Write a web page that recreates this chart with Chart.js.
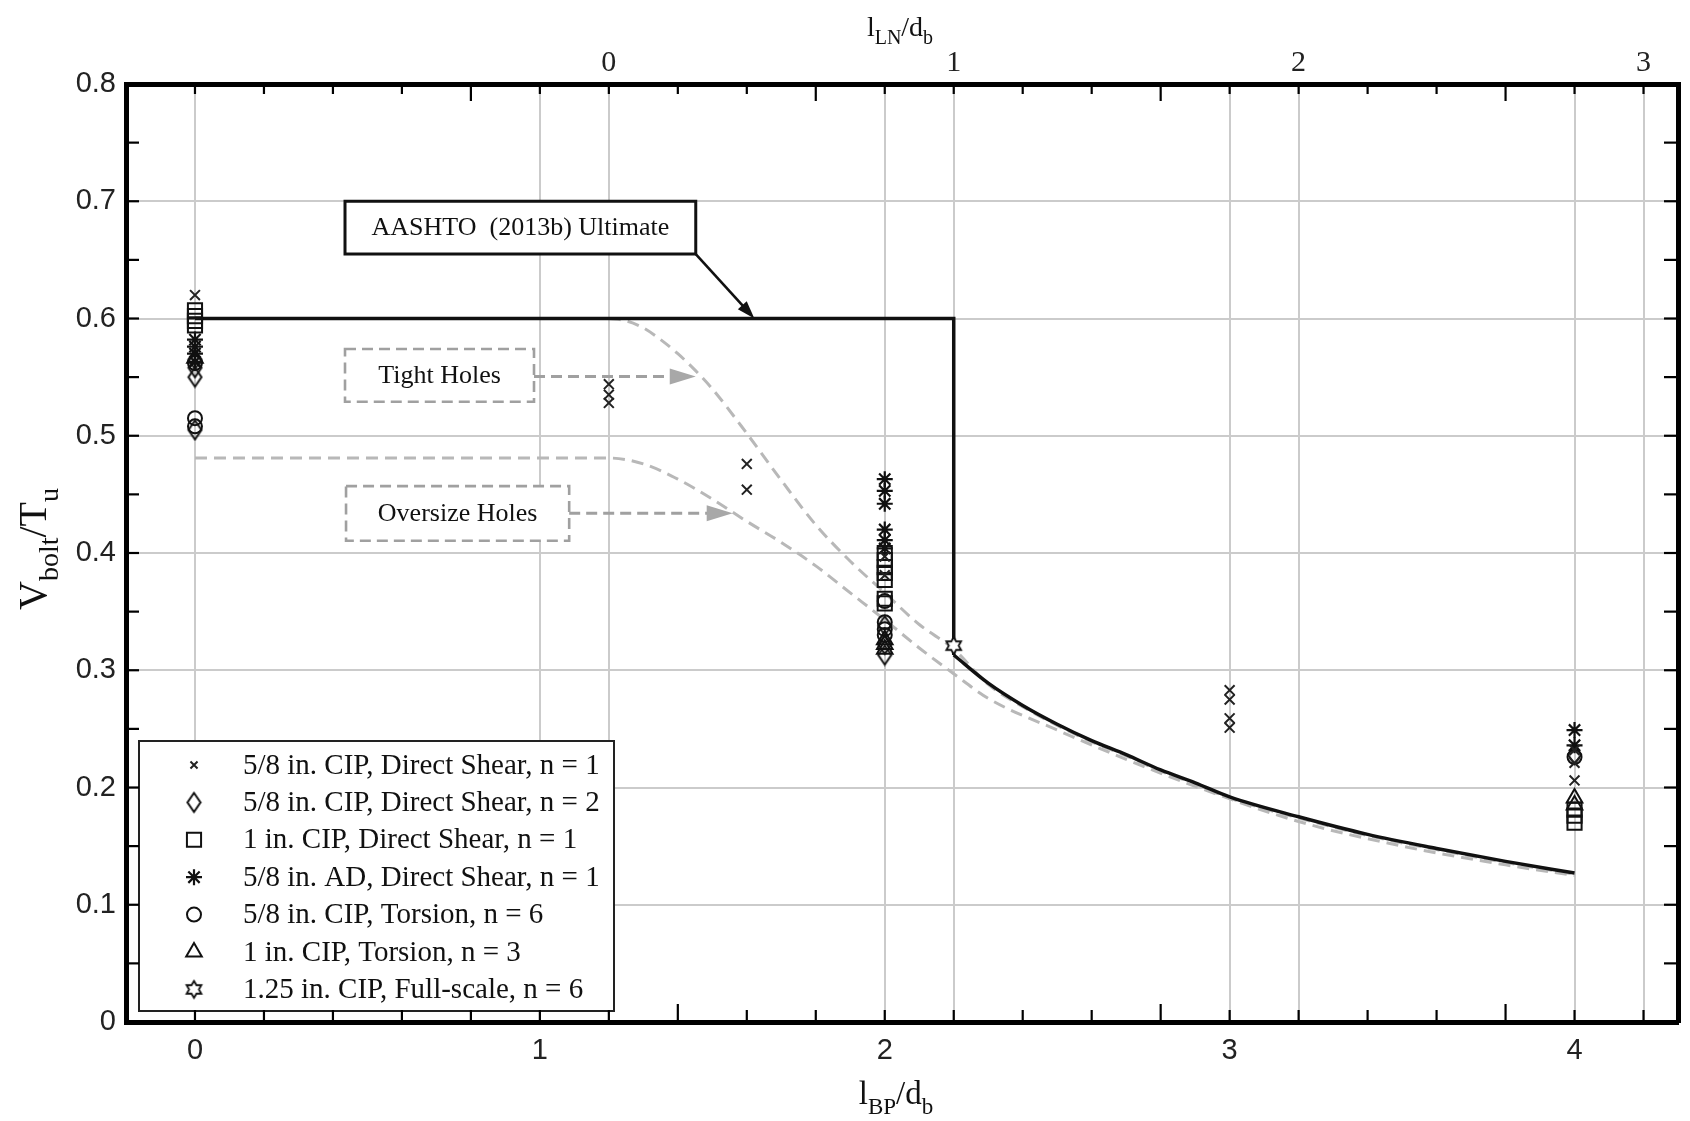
<!DOCTYPE html>
<html><head><meta charset="utf-8">
<script src="https://cdn.jsdelivr.net/npm/chart.js"></script>
<style>html,body{margin:0;padding:0;background:#fff;} #wrap{width:1690px;height:1121px;}</style>
</head><body><div id="wrap"><canvas id="c" width="1690" height="1121"></canvas></div>
<script>
// ---------------- DATA ----------------
const xTickValues = [0, 1, 2, 3, 4];          // bottom axis l_BP/d_b
const x2TickValues = [0, 1, 2, 3];            // top axis l_LN/d_b
const yTickValues = [0, 0.1, 0.2, 0.3, 0.4, 0.5, 0.6, 0.7, 0.8];

const legendLabels = [
  '5/8 in. CIP, Direct Shear, n = 1',
  '5/8 in. CIP, Direct Shear, n = 2',
  '1 in. CIP, Direct Shear, n = 1',
  '5/8 in. AD, Direct Shear, n = 1',
  '5/8 in. CIP, Torsion, n = 6',
  '1 in. CIP, Torsion, n = 3',
  '1.25 in. CIP, Full-scale, n = 6'
];

const cip58ds1X = [0, 1.2, 1.2, 1.2, 1.6, 1.6, 2, 2, 3, 3, 3, 3, 4, 4, 4];
const cip58ds1Y = [0.620, 0.544, 0.535, 0.528, 0.476, 0.454, 0.397, 0.381, 0.283, 0.275, 0.259, 0.251, 0.232, 0.221, 0.206];

const cip58ds2X = [0, 0, 0, 0, 2, 2, 2, 4];
const cip58ds2Y = [0.565, 0.558, 0.550, 0.505, 0.338, 0.322, 0.313, 0.228];

const cip1ds1X = [0, 0, 0, 0, 2, 2, 2, 2, 2, 2, 2, 4, 4, 4];
const cip1ds1Y = [0.607, 0.602, 0.598, 0.594, 0.400, 0.394, 0.388, 0.383, 0.377, 0.361, 0.357, 0.181, 0.176, 0.170];

const ad58ds1X = [0, 0, 0, 0, 2, 2, 2, 2, 2, 2, 4, 4];
const ad58ds1Y = [0.582, 0.576, 0.570, 0.563, 0.463, 0.453, 0.442, 0.420, 0.411, 0.404, 0.249, 0.236];

const cip58torX = [0, 0, 0, 2, 2, 2, 2, 4];
const cip58torY = [0.562, 0.515, 0.508, 0.359, 0.341, 0.335, 0.330, 0.226];

const cip1torX = [0, 2, 2, 2, 4, 4];
const cip1torY = [0.566, 0.326, 0.322, 0.318, 0.191, 0.185];

const fullScaleX = [2.2];
const fullScaleY = [0.321];

const aashtoStepX = [0, 2.2, 2.2];
const aashtoStepY = [0.6, 0.6, 0.313];
const aashtoCurveX = [2.2, 2.3, 2.4, 2.5, 2.6, 2.7, 2.8, 2.9, 3.0, 3.2, 3.4, 3.6, 3.8, 4.0];
const aashtoCurveY = [0.313, 0.289, 0.270, 0.254, 0.240, 0.228, 0.215, 0.204, 0.192, 0.175, 0.160, 0.148, 0.137, 0.127];

const tightX = [1.2, 1.25, 1.3, 1.35, 1.4, 1.45, 1.5, 1.6, 1.7, 1.8, 1.9, 2.0, 2.1, 2.2, 2.3, 2.4, 2.5, 2.6, 2.7, 2.8, 2.9, 3.0, 3.2, 3.4, 3.6, 3.8, 4.0];
const tightY = [0.600, 0.598, 0.592, 0.582, 0.570, 0.556, 0.540, 0.502, 0.462, 0.424, 0.393, 0.366, 0.339, 0.318, 0.288, 0.269, 0.253, 0.239, 0.227, 0.214, 0.203, 0.191, 0.174, 0.159, 0.147, 0.136, 0.126];

const oversizeX = [0, 1.2, 1.3, 1.4, 1.5, 1.6, 1.7, 1.8, 1.9, 2.0, 2.1, 2.2, 2.3, 2.5, 2.7, 2.9, 3.2, 3.5, 3.8, 4.0];
const oversizeY = [0.481, 0.481, 0.476, 0.463, 0.446, 0.427, 0.409, 0.389, 0.366, 0.343, 0.319, 0.297, 0.276, 0.249, 0.224, 0.201, 0.171, 0.150, 0.134, 0.125];

// annotation boxes & arrows (data coordinates)
const noteBoxes = [
  {text: 'AASHTO  (2013b) Ultimate', x0: 0.435, x1: 1.452, yTop: 0.700, yBot: 0.655, dashed: false},
  {text: 'Tight Holes', x0: 0.435, x1: 0.983, yTop: 0.574, yBot: 0.529, dashed: true},
  {text: 'Oversize Holes', x0: 0.438, x1: 1.085, yTop: 0.457, yBot: 0.4105, dashed: true}
];
const noteArrows = [
  {fx: 1.452, fy: 0.655, tx: 1.622, ty: 0.600, dashed: false},
  {fx: 0.983, fy: 0.5505, tx: 1.452, ty: 0.5505, dashed: true},
  {fx: 1.085, fy: 0.434, tx: 1.559, ty: 0.434, dashed: true}
];

// ---------------- STYLE HELPERS ----------------
const SERIF = '"Liberation Serif", "Times New Roman", serif';
const SANS = '"Liberation Sans", Arial, sans-serif';
const zip = (xs, ys) => xs.map((x, i) => ({x, y: ys[i]}));

function makeDiamond(w, h, lw) {
  const c = document.createElement('canvas'); c.width = w + 4; c.height = h + 4;
  const g = c.getContext('2d'); const cx = c.width / 2, cy = c.height / 2;
  g.beginPath(); g.moveTo(cx, cy - h / 2); g.lineTo(cx + w / 2, cy); g.lineTo(cx, cy + h / 2); g.lineTo(cx - w / 2, cy); g.closePath();
  g.strokeStyle = '#111'; g.lineWidth = lw; g.stroke();
  return c;
}
function makeHexagram(size, lw) {
  const c = document.createElement('canvas'); c.width = c.height = size + 4;
  const g = c.getContext('2d'); const cx = c.width / 2, cy = c.height / 2;
  const R = size / 2, r = R / Math.sqrt(3);
  g.beginPath();
  for (let i = 0; i < 12; i++) {
    const a = -Math.PI / 2 + i * Math.PI / 6; const rr = (i % 2 === 0) ? R : r;
    const px = cx + rr * Math.cos(a), py = cy + rr * Math.sin(a);
    if (i === 0) g.moveTo(px, py); else g.lineTo(px, py);
  }
  g.closePath(); g.fillStyle = '#fff'; g.fill(); g.strokeStyle = '#111'; g.lineWidth = lw; g.stroke();
  return c;
}
const diamondImg = makeDiamond(13, 19, 2);
const hexImg = makeHexagram(17, 1.8);

function markerSet(label, xs, ys, style, radius, color, bw) {
  return {type: 'scatter', label, data: zip(xs, ys), pointStyle: style, pointRadius: radius,
    pointBorderColor: color, pointBackgroundColor: 'rgba(0,0,0,0)', pointBorderWidth: bw, showLine: false};
}
function lineSet(label, xs, ys, color, width, dash, mono) {
  return {type: 'line', label, data: zip(xs, ys), borderColor: color, borderWidth: width, borderDash: dash,
    pointRadius: 0, fill: false, tension: 0, cubicInterpolationMode: mono ? 'monotone' : 'default', borderJoinStyle: 'miter'};
}

const datasets = [
  markerSet(legendLabels[0], cip58ds1X, cip58ds1Y, 'crossRot', 7, '#222', 2),
  markerSet(legendLabels[1], cip58ds2X, cip58ds2Y, diamondImg, 8, '#111', 2),
  markerSet(legendLabels[2], cip1ds1X, cip1ds1Y, 'rect', 10, '#111', 2),
  markerSet(legendLabels[3], ad58ds1X, ad58ds1Y, 'star', 8, '#111', 2.2),
  markerSet(legendLabels[4], cip58torX, cip58torY, 'circle', 7, '#111', 2),
  markerSet(legendLabels[5], cip1torX, cip1torY, 'triangle', 9, '#111', 2),
  markerSet(legendLabels[6], fullScaleX, fullScaleY, hexImg, 8, '#111', 1.8),
  lineSet('AASHTO step', aashtoStepX, aashtoStepY, '#111', 3.5, [], false),
  lineSet('AASHTO curve', aashtoCurveX, aashtoCurveY, '#111', 3.5, [], true),
  lineSet('Tight Holes', tightX, tightY, '#b8b8b8', 3, [12, 7], true),
  lineSet('Oversize Holes', oversizeX, oversizeY, '#b8b8b8', 3, [12, 7], true)
];

// ---------------- PLUGINS ----------------
function arrowHead(ctx, x1, y1, x2, y2, L, W, fill) {
  const a = Math.atan2(y2 - y1, x2 - x1);
  ctx.beginPath();
  ctx.moveTo(x2, y2);
  ctx.lineTo(x2 - L * Math.cos(a) + W * Math.sin(a), y2 - L * Math.sin(a) - W * Math.cos(a));
  ctx.lineTo(x2 - L * Math.cos(a) - W * Math.sin(a), y2 - L * Math.sin(a) + W * Math.cos(a));
  ctx.closePath(); ctx.fillStyle = fill; ctx.fill();
}

const notesPlugin = {
  id: 'notes',
  beforeDatasetsDraw(chart) {
    const {ctx, scales: {x, y}} = chart;
    ctx.save();
    noteBoxes.forEach(b => {
      const l = x.getPixelForValue(b.x0), r = x.getPixelForValue(b.x1);
      const t = y.getPixelForValue(b.yTop), bt = y.getPixelForValue(b.yBot);
      ctx.fillStyle = '#fff'; ctx.fillRect(l, t, r - l, bt - t);
      ctx.setLineDash(b.dashed ? [11, 6] : []);
      ctx.lineWidth = b.dashed ? 2.6 : 3;
      ctx.strokeStyle = b.dashed ? '#a0a0a0' : '#111';
      ctx.strokeRect(l, t, r - l, bt - t);
      ctx.setLineDash([]);
      ctx.fillStyle = '#111'; ctx.font = '26px ' + SERIF; ctx.textAlign = 'center'; ctx.textBaseline = 'middle';
      ctx.fillText(b.text, (l + r) / 2, (t + bt) / 2 + 1);
    });
    ctx.restore();
  },
  afterDatasetsDraw(chart) {
    const {ctx, scales: {x, y}} = chart;
    ctx.save();
    noteArrows.forEach(a => {
      const x1 = x.getPixelForValue(a.fx), y1 = y.getPixelForValue(a.fy);
      const x2 = x.getPixelForValue(a.tx), y2 = y.getPixelForValue(a.ty);
      const L = a.dashed ? 26 : 18, W = a.dashed ? 8 : 6;
      const ang = Math.atan2(y2 - y1, x2 - x1);
      const xe = x2 - (L - 2) * Math.cos(ang), ye = y2 - (L - 2) * Math.sin(ang);
      ctx.beginPath(); ctx.moveTo(x1, y1); ctx.lineTo(xe, ye);
      ctx.setLineDash(a.dashed ? [11, 6] : []);
      ctx.lineWidth = a.dashed ? 3 : 2.6;
      ctx.strokeStyle = a.dashed ? '#a0a0a0' : '#111';
      ctx.stroke(); ctx.setLineDash([]);
      arrowHead(ctx, x1, y1, x2, y2, L, W, a.dashed ? '#a8a8a8' : '#111');
    });
    ctx.restore();
  }
};

const legendPlugin = {
  id: 'insideLegend',
  beforeDatasetsDraw(chart) {
    const {ctx, chartArea: a} = chart;
    const left = a.left + 13, top = a.bottom - 281, w = 475, h = 270;
    ctx.save();
    ctx.fillStyle = '#fff'; ctx.fillRect(left, top, w, h);
    ctx.lineWidth = 2; ctx.strokeStyle = '#222'; ctx.strokeRect(left, top, w, h);
    for (let i = 0; i < 7; i++) {
      const ds = chart.data.datasets[i];
      const cy = top + 24 + i * 37.4, cx = left + 55;
      ctx.strokeStyle = ds.pointBorderColor; ctx.lineWidth = ds.pointBorderWidth;
      ctx.fillStyle = 'rgba(0,0,0,0)';
      const r = i === 0 ? 5 : ds.pointRadius;
      if (Chart.helpers && Chart.helpers.drawPoint) {
        Chart.helpers.drawPoint(ctx, {pointStyle: ds.pointStyle, rotation: 0, radius: r, borderWidth: ds.pointBorderWidth}, cx, cy);
      }
      ctx.fillStyle = '#111'; ctx.font = '29px ' + SERIF; ctx.textAlign = 'left'; ctx.textBaseline = 'middle';
      ctx.fillText(ds.label, left + 104, cy + 1);
    }
    ctx.restore();
  }
};

function drawParts(ctx, parts, mainPx, subPx, cx, baseY) {
  let total = 0;
  parts.forEach(p => { ctx.font = (p.sub ? subPx : mainPx) + 'px ' + SERIF; total += ctx.measureText(p.t).width; });
  let xx = cx - total / 2;
  ctx.textAlign = 'left'; ctx.textBaseline = 'alphabetic';
  parts.forEach(p => {
    ctx.font = (p.sub ? subPx : mainPx) + 'px ' + SERIF;
    ctx.fillText(p.t, xx, baseY + (p.sub ? mainPx * 0.3 : 0));
    xx += ctx.measureText(p.t).width;
  });
}

const titlesPlugin = {
  id: 'subTitles',
  afterDraw(chart) {
    const {ctx, chartArea: a} = chart;
    const mid = (a.left + a.right) / 2;
    ctx.save(); ctx.fillStyle = '#111';
    drawParts(ctx, [{t: 'l'}, {t: 'BP', sub: true}, {t: '/d'}, {t: 'b', sub: true}], 33, 23, mid - 6, 1104);
    drawParts(ctx, [{t: 'l'}, {t: 'LN', sub: true}, {t: '/d'}, {t: 'b', sub: true}], 28, 20, mid - 2, 36);
    ctx.translate(46, (a.top + a.bottom) / 2 - 4);
    ctx.rotate(-Math.PI / 2);
    drawParts(ctx, [{t: 'V'}, {t: 'bolt', sub: true}, {t: '/T'}, {t: 'u', sub: true}], 40, 28, 0, 0);
    ctx.restore();
  }
};

const frameTicksPlugin = {
  id: 'frameTicks',
  afterDraw(chart) {
    const {ctx, chartArea: a, scales: {x, y, x2}} = chart;
    ctx.save(); ctx.strokeStyle = '#000'; ctx.lineWidth = 2.2;
    const seg = (x1, y1, xb, yb) => { ctx.beginPath(); ctx.moveTo(x1, y1); ctx.lineTo(xb, yb); ctx.stroke(); };
    for (let k = 1; k < 16; k++) {
      const py = y.getPixelForValue(k * 0.05);
      seg(a.left, py, a.left + 13, py);
      seg(a.right, py, a.right - 14, py);
    }
    const longBottom = [1.4, 2.8, 3.8];
    for (let k = 1; k <= 22; k++) {
      const v = Math.round((-0.2 + k * 0.2) * 10) / 10;
      const px = x.getPixelForValue(v);
      const len = longBottom.includes(v) ? 18 : 12;
      seg(px, a.bottom, px, a.bottom - len);
    }
    const longTop = [-0.4, 0.6, 1.6, 2.6];
    for (let k = 1; k <= 22; k++) {
      const v = Math.round((-1.4 + k * 0.2) * 10) / 10;
      const px = x2.getPixelForValue(v);
      const len = longTop.includes(v) ? 17 : 10;
      seg(px, a.top, px, a.top + len);
    }
    ctx.restore();
  }
};

// ---------------- CHART ----------------
const gridOpts = {color: '#cbcbcb', lineWidth: 2, drawTicks: false};
const borderOpts = {display: true, color: '#000', width: 5};

new Chart(document.getElementById('c'), {
  type: 'scatter',
  data: {datasets},
  options: {
    responsive: false, animation: false, devicePixelRatio: 1,
    layout: {padding: 0},
    plugins: {legend: {display: false}, tooltip: {enabled: false}},
    scales: {
      x: {
        type: 'linear', position: 'bottom', min: -0.2, max: 4.3,
        afterBuildTicks: s => { s.ticks = xTickValues.map(v => ({value: v})); },
        afterFit: s => { s.height = 99; },
        ticks: {font: {family: SANS, size: 29}, color: '#222', padding: 12, autoSkip: false, maxRotation: 0, callback: v => String(v)},
        grid: gridOpts, border: borderOpts
      },
      x2: {
        type: 'linear', position: 'top', min: -1.4, max: 3.1,
        afterBuildTicks: s => { s.ticks = x2TickValues.map(v => ({value: v})); },
        afterFit: s => { s.height = 84; },
        ticks: {font: {family: SERIF, size: 30}, color: '#222', padding: 3, autoSkip: false, maxRotation: 0, callback: v => String(v)},
        grid: gridOpts, border: borderOpts
      },
      y: {
        type: 'linear', position: 'left', min: 0, max: 0.8,
        afterBuildTicks: s => { s.ticks = yTickValues.map(v => ({value: v})); },
        afterFit: s => { s.width = 126; },
        ticks: {font: {family: SANS, size: 29}, color: '#222', padding: 10, autoSkip: false, callback: v => (v === 0 ? '0' : v.toFixed(1))},
        grid: gridOpts, border: borderOpts
      },
      y2: {
        type: 'linear', position: 'right', min: 0, max: 0.8,
        afterFit: s => { s.width = 4; },
        ticks: {display: false},
        grid: {drawOnChartArea: false, drawTicks: false}, border: borderOpts
      }
    }
  },
  plugins: [legendPlugin, notesPlugin, titlesPlugin, frameTicksPlugin]
});
</script>
</body></html>
